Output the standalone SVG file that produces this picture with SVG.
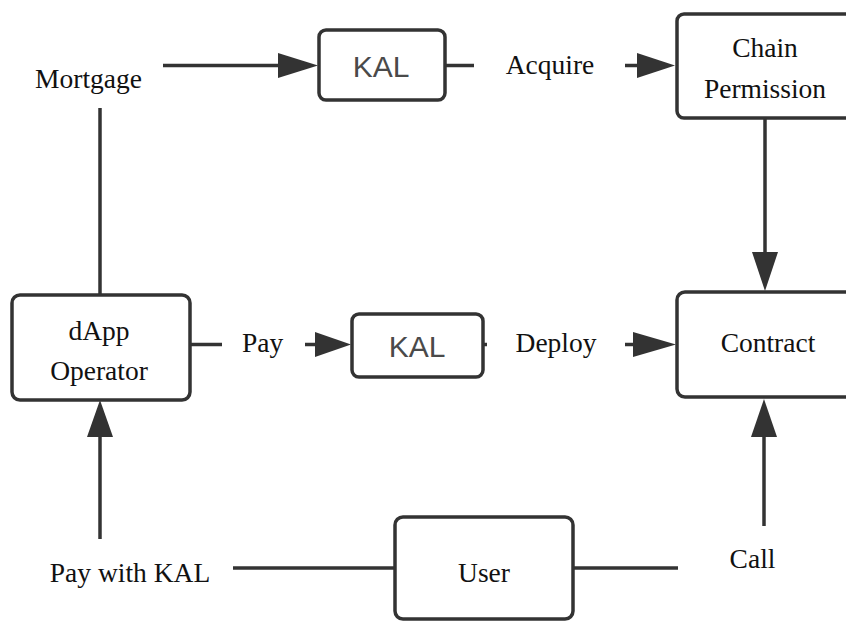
<svg xmlns="http://www.w3.org/2000/svg" width="846" height="621" viewBox="0 0 846 621">
<defs>
<style>
.box{fill:#fff;stroke:#333;stroke-width:3.5}
.t{font-family:'Liberation Serif','Times New Roman',serif;font-size:27.5px;fill:#111;text-anchor:middle}
.k{font-family:'Liberation Sans',Arial,sans-serif;font-size:30px;fill:#4a4a4a;text-anchor:middle}
.ln{stroke:#333;stroke-width:3.5;fill:none}
.ah{fill:#333}
</style>
</defs>
<rect width="846" height="621" fill="#fff"/>
<g id="connectors">
<line class="ln" x1="163" y1="65.5" x2="282" y2="65.5"/>
<polygon class="ah" points="278,53 318,65.5 278,78"/>
<line class="ln" x1="445" y1="65.5" x2="474" y2="65.5"/>
<line class="ln" x1="625" y1="65.5" x2="640" y2="65.5"/>
<polygon class="ah" points="637,53 675,65.5 637,78"/>
<line class="ln" x1="100" y1="108" x2="100" y2="295"/>
<line class="ln" x1="765" y1="118" x2="765" y2="256"/>
<polygon class="ah" points="752,252 778,252 765,291"/>
<line class="ln" x1="190" y1="344.5" x2="222" y2="344.5"/>
<line class="ln" x1="305" y1="344.5" x2="318" y2="344.5"/>
<polygon class="ah" points="315,332 351,344.5 315,357"/>
<line class="ln" x1="483" y1="344.5" x2="487" y2="344.5"/>
<line class="ln" x1="625" y1="344.5" x2="636" y2="344.5"/>
<polygon class="ah" points="633,332 676,344.5 633,357"/>
<line class="ln" x1="100" y1="539" x2="100" y2="434"/>
<polygon class="ah" points="87,437 113,437 100,400"/>
<line class="ln" x1="764" y1="526" x2="764" y2="434"/>
<polygon class="ah" points="751,437 777,437 764,399"/>
<line class="ln" x1="233" y1="568" x2="395" y2="568"/>
<line class="ln" x1="573" y1="568" x2="678" y2="568"/>
</g>
<g id="mortgage"><text class="t" font-family="Liberation Serif, serif" x="88.5" y="88">Mortgage</text></g>
<g id="kal1"><rect class="box" x="319" y="30" width="126" height="70" rx="7"/><text class="k" font-family="Liberation Sans, sans-serif" x="381" y="77">KAL</text></g>
<g id="acquire"><text class="t" font-family="Liberation Serif, serif" x="550" y="74">Acquire</text></g>
<g id="chain"><rect class="box" x="677" y="14" width="190" height="104" rx="7"/><text class="t" font-family="Liberation Serif, serif" x="765" y="57">Chain</text><text class="t" font-family="Liberation Serif, serif" x="765" y="98">Permission</text></g>
<g id="dapp"><rect class="box" x="12" y="295" width="178" height="105" rx="8"/><text class="t" font-family="Liberation Serif, serif" x="99" y="340">dApp</text><text class="t" font-family="Liberation Serif, serif" x="99" y="380">Operator</text></g>
<g id="pay"><text class="t" font-family="Liberation Serif, serif" x="262.5" y="352">Pay</text></g>
<g id="kal2"><rect class="box" x="352" y="314" width="131" height="63" rx="7"/><text class="k" font-family="Liberation Sans, sans-serif" x="417" y="357">KAL</text></g>
<g id="deploy"><text class="t" font-family="Liberation Serif, serif" x="556" y="352">Deploy</text></g>
<g id="contract"><rect class="box" x="677" y="292" width="190" height="105" rx="8"/><text class="t" font-family="Liberation Serif, serif" x="768" y="352">Contract</text></g>
<g id="paywithkal"><text class="t" font-family="Liberation Serif, serif" x="130" y="582">Pay with KAL</text></g>
<g id="user"><rect class="box" x="395" y="517" width="178" height="102" rx="8"/><text class="t" font-family="Liberation Serif, serif" x="484" y="582">User</text></g>
<g id="call"><text class="t" font-family="Liberation Serif, serif" x="752.5" y="568">Call</text></g>
</svg>
